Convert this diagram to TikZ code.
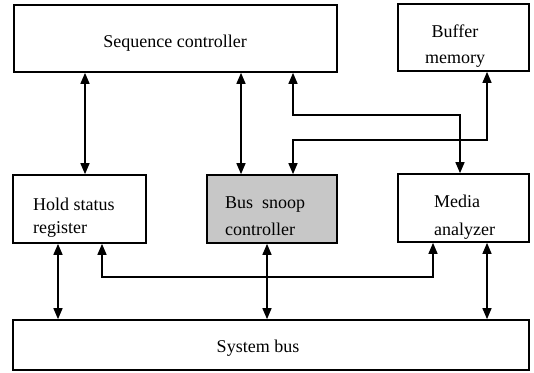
\documentclass[tikz,border=0pt]{standalone}
\usepackage{fontspec}
\setmainfont{Liberation Serif}
\usetikzlibrary{arrows.meta}
\begin{document}
\begin{tikzpicture}[x=1pt,y=-1pt,
  >={Triangle[width=9pt,length=11pt]},
  box/.style={draw, line width=1.7pt, inner sep=0pt},
  shaded/.style={box, fill=black!22},
  caption/.style={inner sep=0pt, font=\fontsize{18}{26}\selectfont},
  link/.style={<->, line width=1.4pt}]
\useasboundingbox (0,0) rectangle (534,372);

% blocks
\node[box, minimum width=323pt, minimum height=67pt] (seq) at (175.5,38.5) {};
\node[box, minimum width=131pt, minimum height=67pt] (buf) at (463.5,37.5) {};
\node[box, minimum width=133pt, minimum height=68pt] (hold) at (79.5,209) {};
\node[shaded, minimum width=130pt, minimum height=68pt] (snoop) at (272,209) {};
\node[box, minimum width=131pt, minimum height=68pt] (media) at (463.5,208) {};
\node[box, minimum width=516pt, minimum height=50pt] (bus) at (271,345) {};

% block captions (anchored on the baseline of their last line)
\node[caption, anchor=base] (seqtext) at (175,47) {Sequence controller};
\node[caption, anchor=base, align=center] (buftext) at (455,63) {Buffer\\memory};
\node[caption, anchor=base west, align=left] (holdtext) at (33,233) {Hold status\\[-3pt]register};
\node[caption, anchor=base west, align=left] (snooptext) at (225,235) {Bus\ \ snoop\\[1pt]controller};
\node[caption, anchor=base west, align=left] (mediatext) at (434,235) {Media\\[2pt]analyzer};
\node[caption, anchor=base] (bustext) at (258,352) {System bus};

% upper connections
\draw[link] (seq.south -| 85,0) -- (hold.north -| 85,0);
\draw[link] (seq.south -| 241,0) -- (snoop.north -| 241,0);
\draw[link] (seq.south -| 293,0) |- (460,115) -- (media.north -| 460,0);
\draw[link] (buf.south -| 487,0) |- (293,140) -- (snoop.north -| 293,0);

% lower connections
\draw[link] (hold.south -| 58,0) -- (bus.north -| 58,0);
\draw[link] (hold.south -| 102,0) |- (433,277) -- (media.south -| 433,0);
\draw[link] (snoop.south -| 267,0) -- (bus.north -| 267,0);
\draw[link] (media.south -| 487,0) -- (bus.north -| 487,0);
\end{tikzpicture}
\end{document}
